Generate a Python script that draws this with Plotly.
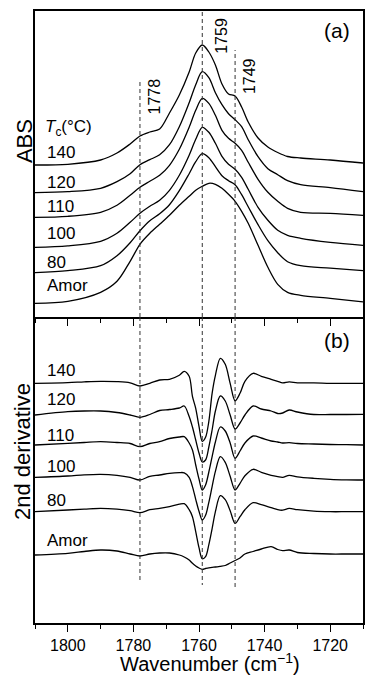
import plotly.graph_objects as go
from plotly.subplots import make_subplots

# Crystallization temperatures (top to bottom in both panels)
sample_labels = ["140", "120", "110", "100", "80", "Amor"]

# ---- Panel (a): absorbance spectra (arbitrary units, stacked) ----
wn_abs = [1810, 1800, 1790, 1785, 1781, 1778, 1775, 1772, 1769, 1766, 1763, 1761,
          1759, 1757, 1755, 1753, 1751, 1749, 1747, 1745, 1742, 1739, 1736, 1733,
          1729, 1720, 1710]
abs_140 = [0, 0.7, 5, 12, 21, 29, 33, 36, 52, 70, 93, 112,
           120, 113, 100, 81, 71, 69, 58, 43, 27, 18, 12.5, 8.5,
           7, 5, 2]
abs_120 = [0, 1, 4.4, 11, 19, 28, 33, 38, 48, 66, 90, 108,
           121, 115, 100, 88, 79, 73, 66, 53, 36, 24, 18, 12,
           8, 5, 1]
abs_110 = [0, 1, 5, 12, 22, 30, 36, 42, 52, 68, 90, 107,
           119, 114, 102, 87, 79, 74, 67, 55, 38, 25, 16, 9,
           5, 4, 2]
abs_100 = [0, 1.5, 6, 14, 25, 34, 41, 47, 57, 72, 92, 108,
           120, 115, 104, 91, 83, 78, 70, 58, 40, 27, 17, 12,
           9, 5, 2]
abs_80 = [0, 2, 7, 17, 30, 42, 52, 59, 68, 82, 99, 111,
          119, 115, 106, 97, 92, 88, 78, 66, 48, 32, 20, 11,
          7, 4.5, 2]
abs_amor = [0, 2, 11, 22, 42, 59, 70, 79, 88, 98, 107, 113,
            117, 120, 119, 115, 109, 102, 92, 80, 58, 36, 19, 11,
            8, 5, 1.5]
abs_series = [abs_140, abs_120, abs_110, abs_100, abs_80, abs_amor]
abs_offsets = [152, 124.3, 99.7, 69.7, 44.3, 13.7]

# ---- Panel (b): second-derivative spectra (arbitrary units, stacked) ----
wn_der = [1810, 1800, 1795, 1790, 1785, 1781, 1778, 1775, 1772, 1769, 1766, 1764.5,
          1763, 1762, 1761, 1760, 1759, 1758, 1757, 1756, 1755, 1753.5, 1752, 1750.5,
          1749, 1747.5, 1746, 1743.5, 1741, 1738, 1736, 1734.5, 1732.5, 1730, 1725,
          1720, 1715, 1710]
der_140 = [0, 0.7, 1.5, 2, 1.7, 0.5, -2.7, 0, 3.3, 4, 8, 12,
           7, -13, -25, -43, -58, -54, -38, -10, 8, 25, 19, 0,
           -17.5, -10, 2, 10, 7, 4, 2, 0.5, 1.5, 0.5, 0.5,
           0, 0, 0]
der_120 = [0, 3.3, 4, 4, 2.5, 0, -2.3, 0.5, 4.5, 5.5, 7, 9,
           -1.5, -12, -25, -38, -47, -45, -32, -15, 4, 19, 14, 0,
           -14, -8, 0, 9, 6, 4, 1.5, 2, 5, 3, 0.5,
           0.5, 0.5, 0.7]
der_110 = [0, 1.7, 2.5, 3.3, 2.5, 1.5, -1.7, 1.5, 3.3, 6.5, 8, 8.3,
           2, -5, -20, -34, -45, -40, -27, -11.7, 3, 18, 14, 2,
           -13.3, -6, 2, 9, 7, 4, 3, 2, 2.3, 1.5, 1,
           0.5, 0.3, 0]
der_100 = [0, 1.3, 2.5, 3, 2, 0, -2.7, 1, 2.3, 4, 4.7, 4.5,
           0, -9.3, -22, -34, -42.7, -38, -25, -9.3, 6, 20.7, 15, 1,
           -12.7, -6, 1.5, 8, 5, 2, 0.7, 0, 2, 0.5, -1,
           -2, -2.5, -2.7]
der_80 = [0, 1.7, 2.5, 3.3, 2.5, 1, -1, 2, 3.3, 5, 7.5, 8,
          2, -5, -20, -36, -47, -45, -33, -17, 0, 16, 12, 1,
          -11.7, -5, 2, 9, 7, 4, 2, 1.5, 3.3, 2, 0.5,
          0, 0, 0]
der_amor = [0, 1.7, 3.5, 5, 4, 1, -1, 1, 2, 2, 0, -2,
            -5, -8.3, -11, -13, -14.3, -13.5, -12.8, -12.3, -12, -11.3, -10.5, -8,
            -5.5, -3, 1, 3.5, 6, 8.3, 5.5, 4.3, 5, 2.5, 1.5,
            1, 1, 1]
der_series = [der_140, der_120, der_110, der_100, der_80, der_amor]
der_offsets = [239.7, 208, 178, 145.7, 111.3, 68]

# Band positions marked with dashed guides (cm-1)
band_positions = [1778, 1759, 1749]

FONT = "Liberation Sans, Arial, sans-serif"
INK = "black"

fig = make_subplots(rows=2, cols=1, shared_xaxes=True, vertical_spacing=0)

for vals, off in zip(abs_series, abs_offsets):
    fig.add_trace(go.Scatter(
        x=wn_abs, y=[v + off for v in vals], mode="lines",
        line=dict(color=INK, width=1.3, shape="spline", smoothing=0.9),
        hoverinfo="skip"), row=1, col=1)

for vals, off in zip(der_series, der_offsets):
    fig.add_trace(go.Scatter(
        x=wn_der, y=[v + off for v in vals], mode="lines",
        line=dict(color=INK, width=1.3, shape="spline", smoothing=0.9),
        hoverinfo="skip"), row=2, col=1)

# Dashed guide lines through both panels
top_ends = {1778: 235, 1759: 306, 1749: 267}
bottom_ends = {1778: 43, 1759: 38, 1749: 35}
dash_style = dict(color="#333333", width=1, dash="4px,3px")
for b in band_positions:
    fig.add_shape(type="line", xref="x", yref="y", x0=b, x1=b, y0=0, y1=top_ends[b],
                  line=dash_style, layer="above")
    fig.add_shape(type="line", xref="x2", yref="y2", x0=b, x1=b, y0=306, y1=bottom_ends[b],
                  line=dash_style, layer="above")

annotations = []
# Rotated band labels
band_label_pos = {1778: (15, 220.5), 1759: (19, 281.5), 1749: (14, 241)}
for b in band_positions:
    xs, yv = band_label_pos[b]
    annotations.append(dict(text=str(b), x=b, y=yv, xref="x", yref="y", xshift=xs,
                            textangle=-90, showarrow=False,
                            font=dict(family=FONT, size=16, color=INK)))

# Sample labels (paper coordinates, plot area 35..365 px wide, 11..623 px tall)
def px_to_paper(px, py):
    return (px - 35) / 330.0, (623 - py) / 612.0

top_label_py = [153, 182, 207, 233, 262, 285]
bot_label_py = [370, 399, 435, 466, 500, 540]
for lab, py in zip(sample_labels, top_label_py):
    xp, yp = px_to_paper(45, py)
    annotations.append(dict(text=lab, x=xp, y=yp, xref="paper", yref="paper",
                            xanchor="left", yanchor="middle", showarrow=False,
                            font=dict(family=FONT, size=17, color=INK)))
for lab, py in zip(sample_labels, bot_label_py):
    xp, yp = px_to_paper(45, py)
    annotations.append(dict(text=lab, x=xp, y=yp, xref="paper", yref="paper",
                            xanchor="left", yanchor="middle", showarrow=False,
                            font=dict(family=FONT, size=17, color=INK)))

xp, yp = px_to_paper(43, 128)
annotations.append(dict(text="<i>T</i><sub>c</sub>(°C)", x=xp, y=yp, xref="paper", yref="paper",
                        xanchor="left", yanchor="middle", showarrow=False,
                        font=dict(family=FONT, size=17, color=INK)))

for txt, (px, py) in [("(a)", (339, 31)), ("(b)", (339, 340))]:
    xp, yp = px_to_paper(px, py)
    annotations.append(dict(text=txt, x=xp, y=yp, xref="paper", yref="paper",
                            xanchor="center", yanchor="middle", showarrow=False,
                            font=dict(family=FONT, size=21, color=INK)))

# Axis titles
for txt, (px, py) in [("ABS", (24, 141)), ("2nd derivative", (22, 452))]:
    xp, yp = px_to_paper(px, py)
    annotations.append(dict(text=txt, x=xp, y=yp, xref="paper", yref="paper",
                            xanchor="center", yanchor="middle", textangle=-90,
                            showarrow=False, font=dict(family=FONT, size=22, color=INK)))
xp, yp = px_to_paper(211, 662)
annotations.append(dict(text="Wavenumber (cm<sup>−1</sup>)", x=xp, y=yp, xref="paper", yref="paper",
                        xanchor="center", yanchor="middle", showarrow=False,
                        font=dict(family=FONT, size=20, color=INK)))

xcommon = dict(range=[1810, 1710], showgrid=False, zeroline=False, showline=True,
               linecolor=INK, linewidth=1.5, ticks="outside", tickmode="linear",
               tick0=1720, dtick=20, ticklen=7, tickwidth=1.2, tickcolor=INK,
               minor=dict(ticks="outside", dtick=10, tick0=1720, ticklen=4,
                          tickwidth=1.2, tickcolor=INK))
fig.update_xaxes(**xcommon)
fig.update_xaxes(row=1, col=1, showticklabels=False, mirror=True)
fig.update_xaxes(row=2, col=1, showticklabels=True,
                 tickfont=dict(family=FONT, size=16, color=INK))

ycommon = dict(range=[0, 306], showgrid=False, zeroline=False, showline=True,
               linecolor=INK, linewidth=1.5, mirror=True, ticks="",
               showticklabels=False)
fig.update_yaxes(**ycommon)

fig.update_layout(width=366, height=681, margin=dict(l=35, r=1, t=11, b=58),
                  plot_bgcolor="white", paper_bgcolor="white", showlegend=False,
                  annotations=annotations, font=dict(family=FONT, color=INK))

fig.write_html("out.html")
